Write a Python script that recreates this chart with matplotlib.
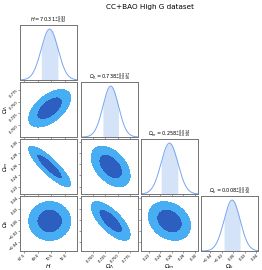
import numpy as np
import matplotlib
matplotlib.use("Agg")
import matplotlib.pyplot as plt

# --------------------------
# Values
# --------------------------
labels = [r"$H$", r"$\Omega_\Lambda$", r"$\Omega_m$", r"$\Omega_k$"]
means = [70.31, 0.736, 0.256, -0.002]
sigmas = [0.92, 0.016, 0.0145, 0.014]
titles = [
    r"$H = 70.31^{+0.93}_{-0.92}$",
    r"$\Omega_\Lambda = 0.738^{+0.017}_{-0.016}$",
    r"$\Omega_m = 0.258^{+0.014}_{-0.015}$",
    r"$\Omega_k = 0.008^{+0.015}_{-0.016}$",
]
limits = [(67.07, 73.3), (0.675, 0.792), (0.207, 0.305), (-0.056, 0.043)]
ticks = [
    [67.5, 69.0, 70.5, 72.0],
    [0.700, 0.725, 0.750, 0.775],
    [0.22, 0.24, 0.26, 0.28, 0.30],
    [-0.04, -0.02, 0.00, 0.02, 0.04],
]
tick_labels = [
    ["67.5", "69.0", "70.5", "72.0"],
    ["0.700", "0.725", "0.750", "0.775"],
    ["0.22", "0.24", "0.26", "0.28", "0.30"],
    ["−0.04", "−0.02", "0.00", "0.02", "0.04"],
]
# correlation for each (row, col) pair of the lower triangle
corr = {(1, 0): 0.55, (2, 0): -0.86, (2, 1): -0.45,
        (3, 0): 0.0, (3, 1): -0.72, (3, 2): -0.25}

COL_OUTER = "#48aef4"
COL_INNER = "#2c5fbf"
COL_LINE = "#77a4f2"
COL_FILL = "#d4e3f8"

W, H = 262, 270
fig = plt.figure(figsize=(W / 100, H / 100), dpi=100)
fig.text(150 / W, 1 - 7 / H, "CC+BAO High G dataset", ha="center", va="center", fontsize=5.2)

lefts = [20, 81, 141, 201]
tops = [25, 82, 139, 196]
pw, ph = 57, 55
n = len(labels)


def style(ax, row, col):
    for s in ax.spines.values():
        s.set_color("0.45")
        s.set_linewidth(0.7)
    ax.tick_params(length=1.2, width=0.4, pad=0.3, labelsize=2.7, color="0.3")
    ax.set_xlim(limits[col])
    ax.set_xticks(ticks[col])
    if row == n - 1:
        ax.set_xticklabels(tick_labels[col], rotation=45, ha="right", va="top",
                           rotation_mode="anchor")
        ax.set_xlabel(labels[col], fontsize=4.3)
        ax.xaxis.set_label_coords(0.5, -11.5 / ph)
    else:
        ax.set_xticklabels([])
    if col == 0 and row > 0:
        ax.set_ylim(limits[row])
        ax.set_yticks(ticks[row])
        ax.set_yticklabels(tick_labels[row], rotation=45, ha="right", va="center",
                           rotation_mode="anchor")
        ax.set_ylabel(labels[row], fontsize=4.3)
        ax.yaxis.set_label_coords(-9.5 / pw, 0.5)
    elif row == col:
        ax.set_yticks([])
    else:
        ax.set_ylim(limits[row])
        ax.set_yticks(ticks[row])
        ax.set_yticklabels([])


for row in range(n):
    for col in range(row + 1):
        ax = fig.add_axes([lefts[col] / W, 1 - (tops[row] + ph) / H, pw / W, ph / H])
        if row == col:
            x = np.linspace(*limits[col], 300)
            y = np.exp(-0.5 * ((x - means[col]) / sigmas[col]) ** 2)
            inside = np.abs(x - means[col]) <= sigmas[col]
            ax.fill_between(x, 0, y, where=inside, color=COL_FILL, lw=0)
            ax.plot(x, y, color=COL_LINE, lw=0.7)
            ax.set_ylim(0, 1.08)
            ax.set_title(titles[col], fontsize=3.6, pad=1.5)
        else:
            gx = np.linspace(*limits[col], 200)
            gy = np.linspace(*limits[row], 200)
            X, Y = np.meshgrid(gx, gy)
            u = (X - means[col]) / sigmas[col]
            v = (Y - means[row]) / sigmas[row]
            r = corr[(row, col)]
            chi2 = (u ** 2 - 2 * r * u * v + v ** 2) / (1 - r ** 2)
            ax.contourf(X, Y, chi2, levels=[0, 2.30, 6.18], colors=[COL_INNER, COL_OUTER])
        style(ax, row, col)

fig.savefig("out.png", dpi=100)
